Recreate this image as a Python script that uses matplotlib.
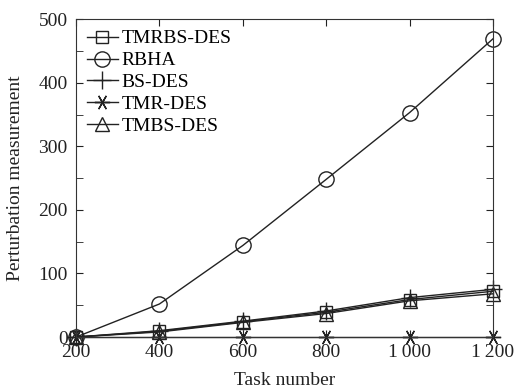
import matplotlib
matplotlib.use("Agg")
import matplotlib.pyplot as plt
from matplotlib.ticker import MultipleLocator, FuncFormatter

plt.rcParams['font.family'] = ['Liberation Serif', 'DejaVu Serif']

task_number = [200, 400, 600, 800, 1000, 1200]
tmrbs_des = [0, 9, 24, 39, 59, 72]
rbha = [0, 52, 144, 248, 353, 469]
bs_des = [0, 10, 25, 41, 62, 75]
tmr_des = [0, 0, 0, 0, 0, 0]
tmbs_des = [0, 8, 23, 37, 57, 68]

fig = plt.figure(figsize=(5.14, 3.91), dpi=100)
ax = fig.add_axes([0.148, 0.138, 0.811, 0.813])

style = dict(color='#222222', lw=1.0, mfc='none', mec='#222222', mew=1.0,
             clip_on=False)
ax.plot(task_number, tmrbs_des, marker='s', ms=8, label='TMRBS-DES', **style)
ax.plot(task_number, rbha, marker='o', ms=11, label='RBHA', **style)
ax.plot(task_number, bs_des, marker='+', ms=13, label='BS-DES', **style)
# asterisk marker: six spokes, one of them vertical
ax.plot(task_number, tmr_des, marker=(6, 2, 90), ms=11, label='TMR-DES', **style)
ax.plot(task_number, tmbs_des, marker='^', ms=10, label='TMBS-DES', **style)

ax.set_xlim(200, 1200)
ax.set_ylim(0, 500)
ax.xaxis.set_major_locator(MultipleLocator(200))
ax.yaxis.set_major_locator(MultipleLocator(100))
ax.yaxis.set_minor_locator(MultipleLocator(50))
ax.xaxis.set_major_formatter(FuncFormatter(
    lambda v, p: f"{int(v):,}".replace(",", "\u2009")))
ax.tick_params(which='both', direction='in', top=True, right=True,
               labelsize=14, colors='#222222')
ax.tick_params(which='major', length=5)
ax.tick_params(which='minor', length=5)
ax.tick_params(axis='y', pad=6)
ax.tick_params(axis='x', pad=5)
for s in ax.spines.values():
    s.set_color('#333333')

ax.set_xlabel('Task number', fontsize=14, color='#222222', labelpad=8)
ax.set_ylabel('Perturbation measurement', fontsize=14, color='#222222',
              labelpad=10)

ax.legend(loc='upper left', frameon=False, fontsize=14, handlelength=1.6,
          handletextpad=0.2, labelspacing=0.22, borderaxespad=0.35,
          borderpad=0.2)

fig.savefig('out.png', dpi=100)
